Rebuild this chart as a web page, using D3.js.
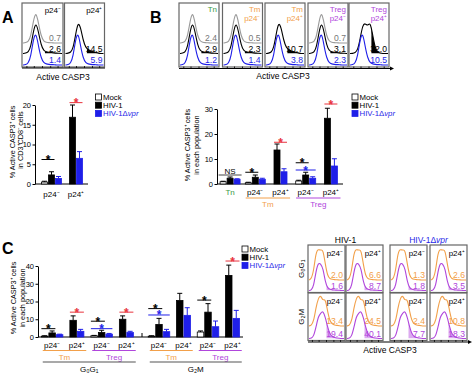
<!DOCTYPE html>
<html lang="en">
<head>
<meta charset="utf-8">
<script src="https://d3js.org/d3.v7.min.js"></script>
<style>
  body { margin: 0; background: #fff; }
</style>
</head>
<body>
<script>

// ---------------- data ----------------
const series = ["Mock", "HIV-1", "HIV-1Δvpr"];

// A: bars (CD3+CD8- cells)
const aKeys = ["p24⁻", "p24⁺"];
const aMock = [0.5, null], aMockErr = [0.2, null];
const aHiv = [2.3, 16.9], aHivErr = [0.8, 3.1];
const aVpr = [1.4, 6.5], aVprErr = [0.5, 1.7];
const aTicks = [0, 5, 10, 15, 20];
// comparisons: [group, from series, to series, height of the bracket]
const aSig = [[0, 0, 1, 6.2], [1, 1, 2, 20.6]];

// A: histogram percentages
const aHistTitles = ["p24⁻", "p24⁺"];
const aHistMock = [0.7, null];
const aHistHiv = [2.6, 14.5];
const aHistVpr = [1.4, 5.9];

// B: bars (each population)
const bKeys = ["Tn", "Tm p24⁻", "Tm p24⁺", "Treg p24⁻", "Treg p24⁺"];
const bLabels = ["Tn", "p24⁻", "p24⁺", "p24⁻", "p24⁺"];
const bMock = [0.9, 0.5, null, 1.2, null], bMockErr = [0.2, 0.2, null, 0.3, null];
const bHiv = [2.3, 2.7, 13.6, 3.6, 26.3], bHivErr = [0.5, 0.9, 2.4, 1.1, 4.0];
const bVpr = [1.9, 1.9, 4.9, 2.3, 7.2], bVprErr = [0.2, 0.4, 1.2, 0.6, 2.9];
const bTicks = [0, 10, 20, 30];
const bSig = [[1, 0, 1, 4.7], [2, 1, 2, 16.7], [3, 0, 1, 8.5], [3, 0, 2, 5.6], [4, 1, 2, 32]];
const bNS = [[0, 0, 2, 3.6]];
const bBrackets = [[1, 2, "Tm"], [3, 4, "Treg"]];

// B: histogram percentages
const bHistTop = ["Tn", "Tm", "Tm", "Treg", "Treg"];
const bHistSub = ["", "p24⁻", "p24⁺", "p24⁻", "p24⁺"];
const bHistMock = [2.4, 0.5, null, 0.7, null];
const bHistHiv = [2.9, 2.3, 10.7, 3.1, 32.0];
const bHistVpr = [1.2, 1.4, 3.8, 2.3, 10.5];

// C: bars by cell-cycle phase
const cPhases = ["G₀G₁", "G₂M"];
const cLabels = ["p24⁻", "p24⁺", "p24⁻", "p24⁺"];
const cMock = [[0.5, null, 0.7, null], [0.5, null, 2.8, null]];
const cMockErr = [[0.2, null, 0.2, null], [0.2, null, 0.6, null]];
const cHiv = [[2.3, 9.4, 2.5, 10.0], [7.1, 20.6, 14.0, 34.7]];
const cHivErr = [[1.1, 2.5, 1.3, 1.9], [3.4, 4.0, 4.8, 5.8]];
const cVpr = [[1.3, 3.2, 1.6, 2.5], [3.0, 12.2, 5.8, 10.5]];
const cVprErr = [[0.3, 1.1, 0.4, 0.7], [1.3, 4.3, 3.2, 4.5]];
const cTicks = [0, 10, 20, 30, 40];
const cSig = [
  [[0, 0, 1, 4.7], [1, 1, 2, 14], [2, 0, 1, 8.9], [2, 0, 2, 4.7], [3, 1, 2, 14]],
  [[0, 0, 1, 16], [0, 0, 2, 12.4], [2, 0, 1, 20.8], [3, 1, 2, 42.8]]
];
const cBrackets = [[0, 1, "Tm"], [2, 3, "Treg"]];

// C: histogram percentages (rows = phase, cols = virus / p24)
const cHistVirus = ["HIV-1", "HIV-1Δvpr"];
const cHistCols = ["p24⁻", "p24⁺", "p24⁻", "p24⁺"];
const cHistTm = [[2.0, 6.6, 1.3, 2.6], [13.4, 24.5, 2.4, 10.8]];
const cHistTreg = [[1.6, 8.7, 1.8, 3.5], [19.4, 40.1, 7.7, 18.3]];

// histogram shapes (relative cell counts per fluorescence bin)
const shapeMock = [0, 0.01, 0.04, 0.2, 0.7, 1, 0.6, 0.2, 0.05, 0.02, 0.01, 0.01, 0, 0, 0, 0];
const shapeHiv = [0, 0.01, 0.04, 0.2, 0.7, 1, 0.65, 0.25, 0.08, 0.05, 0.04, 0.03, 0.02, 0.01, 0.01, 0];
const shapeHivPos = [0, 0.01, 0.03, 0.15, 0.6, 1, 0.8, 0.4, 0.18, 0.12, 0.08, 0.05, 0.03, 0.01, 0, 0];
const shapeHivHigh = [0, 0, 0.02, 0.1, 0.45, 0.9, 0.95, 0.85, 1, 0.55, 0.15, 0.04, 0.01, 0, 0, 0];
const shapeVpr = [0, 0.01, 0.05, 0.25, 0.8, 1, 0.55, 0.2, 0.06, 0.03, 0.02, 0.01, 0.01, 0, 0, 0];
const shapeTm = [0, 0.03, 0.3, 0.9, 1, 0.95, 1, 0.5, 0.12, 0.04, 0.02, 0.01, 0.01, 0, 0, 0];
const shapeTmG2 = [0, 0.02, 0.15, 0.6, 0.9, 1, 0.8, 0.9, 0.45, 0.15, 0.06, 0.03, 0.02, 0.01, 0, 0];
const shapeTreg = [0, 0.01, 0.15, 0.7, 1, 0.95, 0.8, 0.3, 0.08, 0.04, 0.02, 0.02, 0.01, 0.01, 0, 0];
const shapeTregG2 = [0, 0.01, 0.08, 0.4, 0.8, 0.9, 1, 0.75, 0.4, 0.15, 0.06, 0.03, 0.02, 0.01, 0, 0];

// ---------------- style ----------------
const W = 474, H = 374;
const blue = "#1f1fe8", red = "#e8323c", orange = "#f2a04a", purple = "#b046dc", green = "#3a9a48";
const popColor = {Tn: green, Tm: orange, Treg: purple};
const fills = ["#fff", "#000", blue];
const strokes = ["#000", "#000", blue];
const sigColor = (f, t) => (f === 0 && t === 1) ? "#000" : (f === 1 && t === 2) ? red : blue;
const fontF = '"Liberation Sans", Arial, Helvetica, sans-serif';

const svg = d3.select("body").append("svg")
  .attr("width", W).attr("height", H)
  .style("font-family", fontF);

let clipN = 0;

function txt(x, y, s, size, opts = {}) {
  const t = svg.append("text").attr("x", x).attr("y", y)
    .attr("font-family", fontF)
    .attr("font-size", size).attr("fill", opts.fill || "#000")
    .attr("text-anchor", opts.anchor || "start")
    .attr("font-weight", opts.weight || "normal");
  if (opts.rotate) t.attr("transform", `rotate(-90,${x},${y})`);
  if (s.includes("Δvpr")) {
    t.append("tspan").text(s.replace("vpr", ""));
    t.append("tspan").attr("font-style", "italic").text("vpr");
  } else t.text(s);
  return t;
}

function yAxis(y, x, ticks) {
  const ax = svg.append("g").attr("transform", `translate(${x},0)`)
    .call(d3.axisLeft(y).tickValues(ticks).tickSize(2.5).tickSizeOuter(0).tickPadding(1.5));
  ax.attr("font-family", fontF).attr("font-size", 7.5);
  ax.selectAll("path, line").attr("stroke", "#000").attr("stroke-width", 1);
  ax.selectAll("text").attr("fill", "#000").attr("font-family", fontF).attr("font-size", 7.5);
}

function legend(x, y) {
  series.forEach((s, i) => {
    const yy = y + i * 8.2;
    svg.append("rect").attr("x", x).attr("y", yy - 3).attr("width", 6).attr("height", 6)
      .attr("fill", fills[i]).attr("stroke", strokes[i]).attr("stroke-width", 0.8);
    txt(x + 7.5, yy + 3, s, 7.8, {fill: i === 2 ? blue : "#000"});
  });
}

function bars(cfg) {
  const {keys, x0, y, vals, errs, bw} = cfg;
  const recs = keys.flatMap((k, i) => {
    const present = [0, 1, 2].filter(s => vals[s][i] != null);
    return present.map((s, j) => ({k, i, s, j, n: present.length, v: vals[s][i], e: errs[s][i]}));
  });
  const bx = d => x0(d.k) + x0.bandwidth() / 2 - d.n * bw / 2 + d.j * bw;
  const find = (i, s) => recs.find(r => r.i === i && r.s === s);

  svg.append("g").selectAll("rect").data(recs).join("rect")
    .attr("x", d => bx(d) + 0.5).attr("width", bw - 1)
    .attr("y", d => y(d.v)).attr("height", d => y(0) - y(d.v))
    .attr("fill", d => fills[d.s]).attr("stroke", d => strokes[d.s]).attr("stroke-width", 0.8);

  const eb = svg.append("g").selectAll("g").data(recs).join("g")
    .attr("stroke", d => strokes[d.s]).attr("stroke-width", 1);
  eb.append("line")
    .attr("x1", d => bx(d) + bw / 2).attr("x2", d => bx(d) + bw / 2)
    .attr("y1", d => y(d.v)).attr("y2", d => y(d.v + d.e));
  eb.append("line")
    .attr("x1", d => bx(d) + bw / 2 - 2.5).attr("x2", d => bx(d) + bw / 2 + 2.5)
    .attr("y1", d => y(d.v + d.e)).attr("y2", d => y(d.v + d.e));

  (cfg.sig || []).forEach(([i, f, t, v]) => {
    const a = find(i, f), b = find(i, t), c = sigColor(f, t);
    const x1 = bx(a) + 0.5, x2 = bx(b) + bw - 0.5;
    svg.append("line").attr("x1", x1).attr("x2", x2).attr("y1", y(v)).attr("y2", y(v))
      .attr("stroke", c).attr("stroke-width", 1);
    txt((x1 + x2) / 2, y(v) + 4.5, "*", 12, {fill: c, anchor: "middle", weight: "bold"});
  });
  (cfg.ns || []).forEach(([i, f, t, v]) => {
    const a = find(i, f), b = find(i, t);
    const x1 = bx(a) - 1, x2 = bx(b) + bw + 1;
    svg.append("line").attr("x1", x1).attr("x2", x2).attr("y1", y(v)).attr("y2", y(v))
      .attr("stroke", "#444").attr("stroke-width", 1);
    txt((x1 + x2) / 2, y(v) - 1.5, "NS", 8, {anchor: "middle"});
  });

  keys.forEach((k, i) => {
    const lab = cfg.labels[i];
    txt(x0(k) + x0.bandwidth() / 2, cfg.labelY, lab, 8,
      {anchor: "middle", fill: popColor[lab] || "#000"});
  });
  (cfg.brackets || []).forEach(([f, t, lab]) => {
    const x1 = x0(keys[f]) + 3, x2 = x0(keys[t]) + x0.bandwidth() - 3;
    svg.append("line").attr("x1", x1).attr("x2", x2)
      .attr("y1", cfg.labelY + 3).attr("y2", cfg.labelY + 3)
      .attr("stroke", popColor[lab]).attr("stroke-width", 1);
    txt((x1 + x2) / 2, cfg.labelY + 12, lab, 8, {anchor: "middle", fill: popColor[lab]});
  });
}

function histBox(bx, by, bw, bh, curves, gate) {
  svg.append("rect").attr("x", bx).attr("y", by).attr("width", bw).attr("height", bh)
    .attr("fill", "#fff").attr("stroke", "#666").attr("stroke-width", 1.2);
  curves.forEach(c => {
    if (!c.shape) return;
    const xs = d3.scaleLinear().domain([0, c.shape.length - 1]).range([bx + 1, bx + bw - 1]);
    if (c.fill) {
      const id = "clip" + (clipN++);
      svg.append("clipPath").attr("id", id).append("rect")
        .attr("x", bx + bw * gate).attr("y", by).attr("width", bw * (1 - gate) - 1).attr("height", c.base - by);
      const area = d3.area().x((d, i) => xs(i)).y0(c.base).y1(d => c.base - d * c.h).curve(d3.curveBasis);
      svg.append("path").attr("d", area(c.shape)).attr("fill", c.fill)
        .attr("clip-path", `url(#${id})`);
    }
    const line = d3.line().x((d, i) => xs(i)).y(d => c.base - d * c.h).curve(d3.curveBasis);
    svg.append("path").attr("d", line(c.shape)).attr("fill", "none")
      .attr("stroke", c.stroke).attr("stroke-width", 1.1);
    if (c.num != null)
      txt(bx + bw - 2, c.base - 2, c.num.toFixed(1), 8.6, {anchor: "end", fill: c.numFill || c.stroke});
  });
}

function histAxis(x1, x2, y, boxes, arrow) {
  svg.append("line").attr("x1", x1).attr("x2", x2).attr("y1", y).attr("y2", y)
    .attr("stroke", "#000").attr("stroke-width", 1);
  boxes.forEach(([bx, bw]) => {
    [0.12, 0.3, 0.5, 0.7, 0.88].forEach(f => {
      svg.append("line").attr("x1", bx + bw * f).attr("x2", bx + bw * f)
        .attr("y1", y - 2).attr("y2", y).attr("stroke", "#000").attr("stroke-width", 0.8);
    });
  });
  if (arrow)
    svg.append("path").attr("d", `M${x2},${y - 2}L${x2 + 4},${y}L${x2},${y + 2}Z`).attr("fill", "#000");
}

// ---------------- panel A ----------------
txt(2, 23, "A", 16, {weight: "bold"});
const aBoxes = [[22, 41], [64.5, 40]];
aBoxes.forEach(([bx, bw], i) => {
  histBox(bx, 3, bw, 64, [
    {shape: aHistMock[i] != null ? shapeMock : null, base: 43, h: 32, stroke: "#999", num: aHistMock[i], numFill: "#777"},
    {shape: i === 1 ? shapeHivPos : shapeHiv, base: 53.5, h: 32, stroke: "#000", fill: "#000", num: aHistHiv[i]},
    {shape: shapeVpr, base: 65, h: 33, stroke: blue, num: aHistVpr[i]}
  ], 0.56);
  txt(bx + bw - 2, 13, aHistTitles[i], 8, {anchor: "end"});
});
histAxis(22, 105, 68, aBoxes, false);
txt(63, 79.5, "Active CASP3", 8.5, {anchor: "middle"});

const aY = d3.scaleLinear().domain([0, 20]).range([184, 105]);
const aX = d3.scaleBand().domain(aKeys).range([39.25, 88.25]);
yAxis(aY, 35, aTicks);
svg.append("line").attr("x1", 35).attr("x2", 88).attr("y1", aY(0)).attr("y2", aY(0)).attr("stroke", "#000");
bars({keys: aKeys, labels: aKeys, x0: aX, y: aY, bw: 7,
  vals: [aMock, aHiv, aVpr], errs: [aMockErr, aHivErr, aVprErr], sig: aSig, labelY: 196.5});
txt(15, 142, "% Active CASP3⁺ cells", 7.3, {anchor: "middle", rotate: true});
txt(23, 140, "in CD3⁺CD8⁻ cells", 7.3, {anchor: "middle", rotate: true});
legend(95.5, 97);

// ---------------- panel B ----------------
txt(150, 23, "B", 16, {weight: "bold"});
const bBoxes = [[179, 40], [222.5, 40], [265, 40], [308, 40], [349, 40]];
bBoxes.forEach(([bx, bw], i) => {
  histBox(bx, 3, bw, 64, [
    {shape: bHistMock[i] != null ? shapeMock : null, base: 43, h: 32, stroke: "#999", num: bHistMock[i], numFill: "#777"},
    {shape: i === 4 ? shapeHivHigh : (i === 2 ? shapeHivPos : shapeHiv), base: 53.5, h: 32, stroke: "#000", fill: "#000", num: bHistHiv[i]},
    {shape: shapeVpr, base: 65, h: 33, stroke: blue, num: bHistVpr[i]}
  ], 0.56);
  const c = popColor[bHistTop[i]];
  txt(bx + bw - 2, 12, bHistTop[i], 8, {anchor: "end", fill: c});
  if (bHistSub[i]) txt(bx + bw - 2, 21, bHistSub[i], 8, {anchor: "end", fill: c});
});
histAxis(179, 390, 68.5, bBoxes, true);
txt(283, 78.5, "Active CASP3", 8.5, {anchor: "middle"});

const bY = d3.scaleLinear().domain([0, 30]).range([184, 109]);
const bX = d3.scaleBand().domain(bKeys).range([217.5, 343.5]);
yAxis(bY, 217, bTicks);
svg.append("line").attr("x1", 217).attr("x2", 343).attr("y1", bY(0)).attr("y2", bY(0)).attr("stroke", "#000");
bars({keys: bKeys, labels: bLabels, x0: bX, y: bY, bw: 7,
  vals: [bMock, bHiv, bVpr], errs: [bMockErr, bHivErr, bVprErr],
  sig: bSig, ns: bNS, brackets: bBrackets, labelY: 195});
txt(190, 145, "% Active CASP3⁺ cells", 7.3, {anchor: "middle", rotate: true});
txt(198.5, 145, "in each population", 7.3, {anchor: "middle", rotate: true});
legend(352, 97);

// ---------------- panel C (bars) ----------------
txt(2, 254, "C", 16, {weight: "bold"});
const cY = d3.scaleLinear().domain([0, 40]).range([337, 266]);
const cRanges = [[39.75, 138.75], [146.75, 244.75]];
yAxis(cY, 38, cTicks);
svg.append("line").attr("x1", 38).attr("x2", 243).attr("y1", cY(0)).attr("y2", cY(0)).attr("stroke", "#000");
svg.append("line").attr("x1", 142).attr("x2", 142).attr("y1", cY(0)).attr("y2", cY(0) - 4).attr("stroke", "#000");
cPhases.forEach((ph, p) => {
  const keys = cLabels.map((l, i) => ph + i);
  const x0 = d3.scaleBand().domain(keys).range(cRanges[p]);
  bars({keys, labels: cLabels, x0, y: cY, bw: 7.5,
    vals: [cMock[p], cHiv[p], cVpr[p]], errs: [cMockErr[p], cHivErr[p], cVprErr[p]],
    sig: cSig[p], brackets: cBrackets, labelY: 347.5});
  const x1 = cRanges[p][0] + 3, x2 = cRanges[p][1] - 3;
  svg.append("line").attr("x1", x1).attr("x2", x2).attr("y1", 362).attr("y2", 362)
    .attr("stroke", "#555").attr("stroke-width", 1.2);
  txt((x1 + x2) / 2, 372, ph, 8, {anchor: "middle"});
});
txt(16, 298, "% Active CASP3⁺ cells", 7.3, {anchor: "middle", rotate: true});
txt(24.5, 298, "in each population", 7.3, {anchor: "middle", rotate: true});
legend(242, 249);

// ---------------- panel C (histograms) ----------------
const cColX = [308, 346, 390, 430], cColW = 37;
const cRowY = [245, 293], cRowH = 47.5;
cHistVirus.forEach((v, j) => {
  const xm = (cColX[2 * j] + cColX[2 * j + 1] + cColW) / 2;
  txt(xm, 243, v, 8.5, {anchor: "middle", fill: j === 1 ? blue : "#000"});
});
cPhases.forEach((ph, r) => {
  cColX.forEach((bx, c) => {
    const by = cRowY[r];
    histBox(bx, by, cColW, cRowH, [
      {shape: r === 0 ? shapeTm : shapeTmG2, base: by + (r === 0 ? 35 : 33), h: 31, stroke: orange, num: cHistTm[r][c]},
      {shape: r === 0 ? shapeTreg : shapeTregG2, base: by + cRowH - 2, h: 28, stroke: purple,
        fill: "#dcaaf0", num: cHistTreg[r][c]}
    ], 0.5);
    txt(bx + cColW - 2, by + 11, cHistCols[c], 8, {anchor: "end"});
  });
  txt(304, cRowY[r] + cRowH / 2, ph, 8, {anchor: "middle", rotate: true});
});
histAxis(308, 468, 342, cColX.map(x => [x, cColW]), true);
txt(390, 353, "Active CASP3", 8.5, {anchor: "middle"});

</script>
</body>
</html>
